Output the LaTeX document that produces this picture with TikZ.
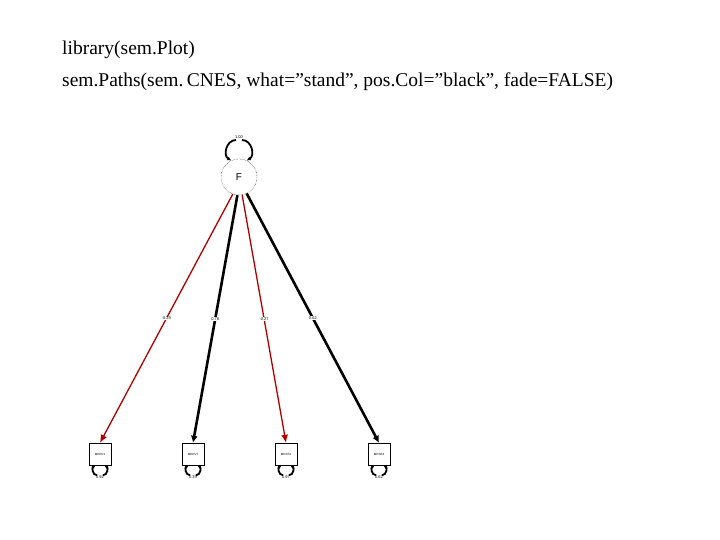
\documentclass[tikz,border=0pt]{standalone}
\usepackage{fontspec}
\setmainfont{Liberation Serif}
\newfontfamily\sans{Liberation Sans}
\usetikzlibrary{arrows.meta,calc}
\begin{document}
\begin{tikzpicture}[x=1pt,y=-1pt,
 obs/.style={draw,thin,minimum size=22pt,inner sep=0pt,font=\sans\fontsize{3}{3}\selectfont},
 lat/.style={draw,densely dotted,circle,minimum size=36pt,inner sep=0pt,font=\sans\fontsize{10}{10}\selectfont},
 lab/.style={fill=white,inner sep=0.5pt,font=\sans\fontsize{4}{4}\selectfont},
 redp/.style={draw=red!70!black,line width=1.3pt,-{Latex[length=8pt,width=7pt]}},
 blkp/.style={draw=black,line width=2.6pt,-{Latex[length=7pt,width=7pt]}},
 res/.style={draw,line width=1.8pt,-{Latex[length=4pt,width=4pt]}}]
\useasboundingbox (0,0) rectangle (720,540);
\node[anchor=west,inner sep=0pt,font=\fontsize{19.5}{19.5}\selectfont] (t1) at (62,50) {library(sem.Plot)};
\node[anchor=west,inner sep=0pt,font=\fontsize{19.5}{19.5}\selectfont] (t2) at (62,82) {sem.Paths(sem.\,CNES, what=\symbol{34}stand\symbol{34}, pos.Col=\symbol{34}black\symbol{34}, fade=FALSE)};
\node[lat] (F) at (239,177) {F};
\node[obs] (a) at (100,454) {MEDV2};
\node[obs] (b) at (193,454) {MEDV7};
\node[obs] (c) at (286,454) {MDSS1};
\node[obs] (d) at (379,454) {MDSE4};
\draw[redp] (F.250) -- (a.north) node[lab,pos=0.5] {-0.29};
\draw[blkp] (F.265) -- (b.north) node[lab,pos=0.5] {0.78};
\draw[redp] (F.280) -- (c.north) node[lab,pos=0.5] {-0.27};
\draw[blkp] (F.295) -- (d.north) node[lab,pos=0.5] {0.62};
\node[lab] (fl) at (239,137) {1.00};
\draw[res] (236,140) to[out=180,in=150,looseness=1.2] (F.115);
\draw[res] (242,140) to[out=0,in=30,looseness=1.2] (F.65);
\foreach \n/\v in {a/0.92,b/0.39,c/0.97,d/0.62}{
 \node[lab] (\n l) at ($(\n.south)+(0,12)$) {\v};
 \draw[res] ($(\n.south)+(-3,10)$) to[out=180,in=-150,looseness=1.2] (\n.250);
 \draw[res] ($(\n.south)+(3,10)$) to[out=0,in=-30,looseness=1.2] (\n.290);
}
\end{tikzpicture}
\end{document}
